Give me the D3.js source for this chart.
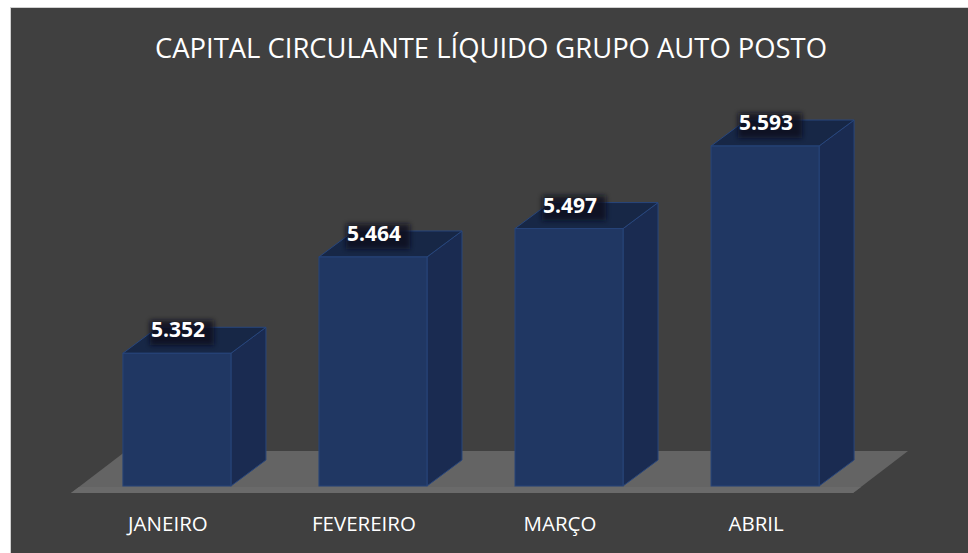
<!DOCTYPE html>
<html>
<head>
<meta charset="utf-8">
<script src="https://cdn.jsdelivr.net/npm/d3@7"></script>
<style>
  body { margin: 0; background: #ffffff; }
  text { font-family: "Open Sans", sans-serif; }
</style>
</head>
<body>
<script>
// chart data
var months = ["JANEIRO", "FEVEREIRO", "MARÇO", "ABRIL"];
var values = [5.352, 5.464, 5.497, 5.593];
var valueLabels = ["5.352", "5.464", "5.497", "5.593"];
var title = "CAPITAL CIRCULANTE LÍQUIDO GRUPO AUTO POSTO";

var w = 968;
var h = 553;
var depthX = 35;     // 3D depth offset of the bars
var depthY = 26;
var floorY = 486;    // front bottom of the bars

var svg = d3.select("body")
    .append("svg")
    .attr("width", w)
    .attr("height", h);

// blur used for the label shadow
var defs = svg.append("defs");
defs.append("filter")
    .attr("id", "soft")
    .attr("x", "-30%").attr("y", "-30%")
    .attr("width", "160%").attr("height", "160%")
    .append("feGaussianBlur")
    .attr("stdDeviation", 2.5);

// chart background
svg.append("rect")
    .attr("x", 10.5)
    .attr("y", 7.5)
    .attr("width", w)
    .attr("height", h)
    .attr("fill", "#404040")
    .attr("stroke", "#d0d0d0");

// title
svg.append("text")
    .attr("x", 491)
    .attr("y", 58)
    .attr("text-anchor", "middle")
    .attr("fill", "#ffffff")
    .attr("font-size", 27)
    .attr("textLength", 672)
    .attr("lengthAdjust", "spacingAndGlyphs")
    .text(title);

var xScale = d3.scaleBand()
    .domain(months)
    .range([79, 863])
    .paddingInner(0.449)
    .paddingOuter(0.224);

var yScale = d3.scaleLinear()
    .domain([5.2, 5.6])
    .range([484, 140]);

// floor (grey parallelogram)
var floorPts = [[71, 493], [853, 493], [908, 451], [126, 451]];
svg.append("polygon")
    .attr("points", floorPts.map(function(p) { return p.join(","); }).join(" "))
    .attr("fill", "#646464");
svg.append("polygon")
    .attr("points", "71,493 853,493 861,487 79,487")
    .attr("fill", "#6a6a6a");

var data = months.map(function(m, i) {
    return { month: m, value: values[i], label: valueLabels[i] };
});

var bars = svg.selectAll(".bar")
    .data(data)
    .enter()
    .append("g")
    .attr("class", "bar");

// right side face
bars.append("polygon")
    .attr("points", function(d) {
        var x1 = xScale(d.month) + xScale.bandwidth();
        var yt = yScale(d.value);
        return [[x1, yt], [x1 + depthX, yt - depthY], [x1 + depthX, floorY - depthY], [x1, floorY]]
            .map(function(p) { return p.join(","); }).join(" ");
    })
    .attr("fill", "#1a2b51")
    .attr("stroke", "#28467c")
    .attr("stroke-width", 1);

// top face
bars.append("polygon")
    .attr("points", function(d) {
        var x0 = xScale(d.month);
        var x1 = x0 + xScale.bandwidth();
        var yt = yScale(d.value);
        return [[x0, yt], [x1, yt], [x1 + depthX, yt - depthY], [x0 + depthX, yt - depthY]]
            .map(function(p) { return p.join(","); }).join(" ");
    })
    .attr("fill", "#172746")
    .attr("stroke", "#28467c")
    .attr("stroke-width", 1);

// front face
bars.append("rect")
    .attr("x", function(d) { return xScale(d.month); })
    .attr("y", function(d) { return yScale(d.value); })
    .attr("width", xScale.bandwidth())
    .attr("height", function(d) { return floorY - yScale(d.value); })
    .attr("fill", "#203763")
    .attr("stroke", "#27457a")
    .attr("stroke-width", 1);

// label shadow boxes
bars.append("rect")
    .attr("x", function(d) { return xScale(d.month) + xScale.bandwidth() / 2 - 27; })
    .attr("y", function(d) { return yScale(d.value) - 33; })
    .attr("width", 64)
    .attr("height", 25)
    .attr("fill", "#0b111e")
    .attr("opacity", 0.8)
    .attr("filter", "url(#soft)");

// value labels
bars.append("text")
    .attr("x", function(d) { return xScale(d.month) + xScale.bandwidth() / 2 + 1; })
    .attr("y", function(d) { return yScale(d.value) - 16; })
    .attr("text-anchor", "middle")
    .attr("fill", "#ffffff")
    .attr("font-size", 21)
    .attr("font-weight", "bold")
    .text(function(d) { return d.label; });

// category labels
svg.selectAll(".cat")
    .data(months)
    .enter()
    .append("text")
    .attr("class", "cat")
    .attr("x", function(d) { return xScale(d) + xScale.bandwidth() / 2 - 9; })
    .attr("y", 531)
    .attr("text-anchor", "middle")
    .attr("fill", "#ffffff")
    .attr("font-size", 20.5)
    .text(function(d) { return d; });
</script>
</body>
</html>
